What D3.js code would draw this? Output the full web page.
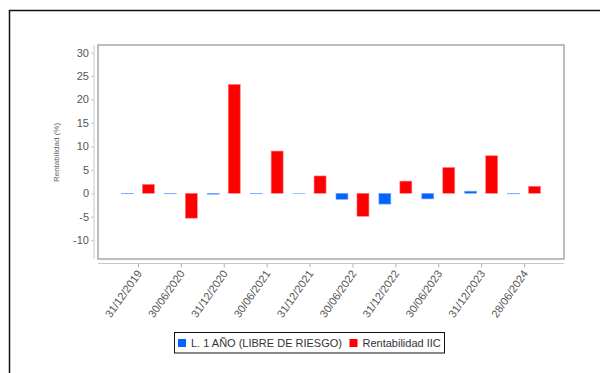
<!DOCTYPE html>
<html>
<head>
<meta charset="utf-8">
<script src="https://cdn.jsdelivr.net/npm/d3@7"></script>
<style>
html,body{margin:0;padding:0;background:#fff;}
svg{display:block;font-family:"Liberation Sans",Arial,sans-serif;}
</style>
</head>
<body>
<svg id="chart" width="600" height="373"></svg>
<script>
const categories = ["31/12/2019","30/06/2020","31/12/2020","30/06/2021","31/12/2021","30/06/2022","31/12/2022","30/06/2023","31/12/2023","28/06/2024"];
const riskFree = [-0.1,-0.1,-0.2,-0.1,-0.05,-1.3,-2.3,-1.2,0.45,-0.12];
const fundReturn = [1.9,-5.3,23.2,9.0,3.7,-4.9,2.6,5.5,8.0,1.5];
const yTicks = [-10,-5,0,5,10,15,20,25,30];
const seriesNames = ["L. 1 AÑO (LIBRE DE RIESGO)","Rentabilidad IIC"];
const seriesColors = ["#0064ff","#ff0000"];
const strokeColors = ["#80b0ff","#ff8080"];

const svg = d3.select("#chart");

// outer frame
svg.append("path").attr("d","M9.5,373 L9.5,10.5 L600,10.5")
  .attr("fill","none").attr("stroke","#111").attr("stroke-width",1.5);

const pLeft = 98, pRight = 564, pTop = 45, pBottom = 259;

const y = d3.scaleLinear().domain([-14, 31.6]).range([pBottom, pTop]);
const x = d3.scalePoint().domain(categories).range([pLeft, pRight]).padding(0.93);

// plot box
svg.append("rect").attr("x",pLeft).attr("y",pTop).attr("width",pRight-pLeft).attr("height",pBottom-pTop)
  .attr("fill","none").attr("stroke","#a8a8a8").attr("stroke-width",1.5);

// y axis
const yAxis = svg.append("g").attr("transform","translate(94,0)")
  .call(d3.axisLeft(y).tickValues(yTicks).tickSize(3).tickPadding(2).tickFormat(d => String(d)));
yAxis.select(".domain").attr("d",`M0,${pTop}V${pBottom}`).attr("stroke","#c8c8c8");
yAxis.selectAll(".tick line").attr("stroke","#c8c8c8");
yAxis.selectAll(".tick text").attr("font-size",11).attr("fill","#555").attr("font-family","Liberation Sans, Arial, sans-serif");

svg.append("text").attr("transform",`translate(59,152.5) rotate(-90)`)
  .attr("text-anchor","middle").attr("font-size",8).attr("fill","#666").text("Rentabilidad (%)");

// x axis
const xAxis = svg.append("g").attr("transform","translate(0,263.5)")
  .call(d3.axisBottom(x).tickSize(4).tickPadding(3));
xAxis.select(".domain").attr("d",`M${pLeft},0H${pRight}`).attr("stroke","#c8c8c8");
xAxis.selectAll(".tick line").attr("stroke","#b0b0b0");
xAxis.selectAll(".tick text")
  .attr("font-size",11).attr("fill","#555").attr("font-family","Liberation Sans, Arial, sans-serif")
  .attr("text-anchor","end").attr("dy",0).attr("y",0)
  .attr("transform","translate(4,10) rotate(-55)");

// bars
const barW = 12, gap = 9;
const offsets = [-(gap/2 + barW), gap/2];
[riskFree, fundReturn].forEach((vals, s) => {
  svg.append("g").selectAll("rect").data(vals).join("rect")
    .attr("x",(d,i)=>x(categories[i]) + offsets[s])
    .attr("width",barW)
    .attr("y",d=>y(Math.max(0,d)))
    .attr("height",d=>Math.abs(y(d)-y(0)))
    .attr("fill",seriesColors[s])
    .attr("stroke",strokeColors[s]).attr("stroke-width",0.6);
});

// legend
const lg = svg.append("g");
lg.append("rect").attr("x",174.5).attr("y",332.5).attr("width",270).attr("height",20.5)
  .attr("fill","#fff").attr("stroke","#111").attr("stroke-width",1);
const legendX = [178, 349.5];
seriesNames.forEach((n,i)=>{
  lg.append("rect").attr("x",legendX[i]).attr("y",339).attr("width",8).attr("height",8).attr("fill",seriesColors[i]);
  lg.append("text").attr("x",legendX[i]+13).attr("y",346.5).attr("font-size",11).attr("fill","#333").text(n);
});
</script>
</body>
</html>
